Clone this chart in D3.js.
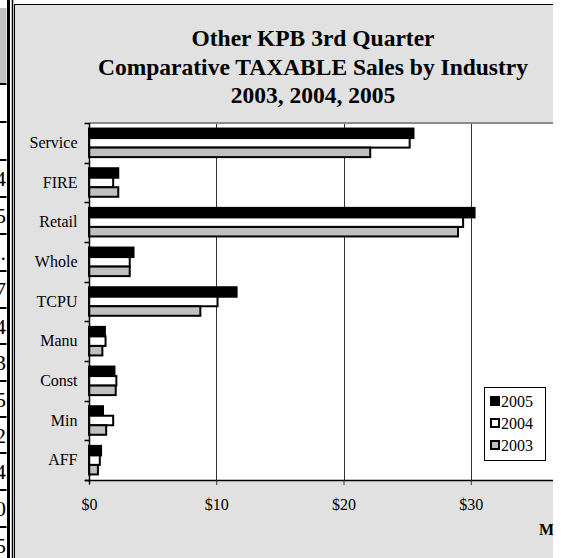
<!DOCTYPE html>
<html>
<head>
<meta charset="utf-8">
<script src="https://cdnjs.cloudflare.com/ajax/libs/d3/7.8.5/d3.min.js"></script>
<style>
  body { margin: 0; background: #fff; }
  svg { display: block; font-family: "Liberation Serif", "Times New Roman", serif; }
</style>
</head>
<body>
<script>
// industries, top to bottom
var categories = ["Service", "FIRE", "Retail", "Whole", "TCPU", "Manu", "Const", "Min", "AFF"];
var years = ["2005", "2004", "2003"];
// taxable sales, $ millions
var sales2005 = [25.5, 2.3, 30.3, 3.5, 11.6, 1.25, 2.0, 1.1, 0.95];
var sales2004 = [25.2, 1.9, 29.4, 3.2, 10.1, 1.3, 2.15, 1.9, 0.85];
var sales2003 = [22.1, 2.3, 29.0, 3.2, 8.75, 1.05, 2.1, 1.35, 0.7];
var xTicks = [0, 10, 20, 30, 40];
// right edge of a table sitting left of the chart (cut off)
var tableDigits = ["", "", "4", "5", ".", "7", "4", "3", "5", "2", "4", "0", "5"];

var w = 561, h = 558;
var clipRight = 553;

var svg = d3.select("body").append("svg")
    .attr("width", w)
    .attr("height", h);

// ---- table strip on the left ----
var tbl = svg.append("g");
tbl.append("rect").attr("x", 0).attr("y", 8).attr("width", 8).attr("height", 76).attr("fill", "#c0c0c0");
var rowLines = [84, 122, 160, 197, 234, 271, 308, 344, 381, 417, 453, 490, 527];
tbl.selectAll("line.row").data(rowLines).enter().append("line")
    .attr("x1", 0).attr("x2", 8)
    .attr("y1", function (d) { return d; }).attr("y2", function (d) { return d; })
    .attr("stroke", "#000").attr("stroke-width", 2);
tbl.selectAll("text").data(tableDigits).enter().append("text")
    .attr("x", 6)
    .attr("y", function (d, i) { return i < rowLines.length - 1 ? (rowLines[i] + rowLines[i + 1]) / 2 : 545; })
    .attr("dy", "0.35em")
    .attr("text-anchor", "end")
    .style("font-size", "22px")
    .text(function (d) { return d; });
tbl.append("rect").attr("x", 6.5).attr("y", 0).attr("width", 1).attr("height", h).attr("fill", "#fff");
tbl.append("line").attr("x1", 8.5).attr("x2", 8.5).attr("y1", 0).attr("y2", h).attr("stroke", "#000").attr("stroke-width", 3);
tbl.append("line").attr("x1", 12.5).attr("x2", 12.5).attr("y1", 0).attr("y2", h).attr("stroke", "#000").attr("stroke-width", 1.5);

// ---- chart area ----
svg.append("clipPath").attr("id", "clip")
    .append("rect").attr("x", 14).attr("y", 0).attr("width", clipRight - 14).attr("height", h);

var chart = svg.append("g").attr("clip-path", "url(#clip)");

chart.append("rect")
    .attr("x", 14.5).attr("y", 4.5)
    .attr("width", 600).attr("height", 600)
    .attr("fill", "#e1e1e1")
    .attr("stroke", "#000");

// title
var title = chart.append("text")
    .attr("text-anchor", "middle")
    .style("font-size", "23.5px")
    .style("font-weight", "bold");
title.append("tspan").attr("x", 313).attr("y", 46).text("Other KPB 3rd Quarter");
title.append("tspan").attr("x", 313).attr("y", 75).text("Comparative TAXABLE Sales by Industry");
title.append("tspan").attr("x", 313).attr("y", 103).text("2003, 2004, 2005");

// scales
var x = d3.scaleLinear().domain([0, 40]).range([89, 598]);
var y = d3.scaleBand().domain(categories).range([123, 480])
    .paddingInner(0.28).paddingOuter(0.14);
var ySub = d3.scaleBand().domain(years).range([0, y.bandwidth()]);
var fills = { "2005": "#000", "2004": "#fff", "2003": "#c0c0c0" };

var rows = categories.map(function (c, i) {
    return { cat: c, values: [
        { year: "2005", v: sales2005[i] },
        { year: "2004", v: sales2004[i] },
        { year: "2003", v: sales2003[i] }
    ] };
});

// plot area
chart.append("rect")
    .attr("x", 89).attr("y", 123)
    .attr("width", 600).attr("height", 357)
    .attr("fill", "#fff");
chart.append("line")
    .attr("x1", 89).attr("x2", 700).attr("y1", 123).attr("y2", 123)
    .attr("stroke", "#8c8c8c").attr("stroke-width", 2);

// gridlines
chart.selectAll("line.grid").data(xTicks.slice(1)).enter().append("line")
    .attr("class", "grid")
    .attr("x1", function (d) { return Math.round(x(d)) + 0.5; })
    .attr("x2", function (d) { return Math.round(x(d)) + 0.5; })
    .attr("y1", 124).attr("y2", 480)
    .attr("stroke", "#333");

// bars
var groups = chart.selectAll("g.cat").data(rows).enter().append("g")
    .attr("transform", function (d) { return "translate(0," + y(d.cat) + ")"; });
groups.selectAll("rect").data(function (d) { return d.values; }).enter().append("rect")
    .attr("x", x(0))
    .attr("y", function (d) { return ySub(d.year); })
    .attr("width", function (d) { return x(d.v) - x(0); })
    .attr("height", ySub.bandwidth())
    .attr("fill", function (d) { return fills[d.year]; })
    .attr("stroke", "#000")
    .attr("stroke-width", 2);

// x axis
var xAxis = chart.append("g")
    .attr("transform", "translate(0,480)")
    .call(d3.axisBottom(x).tickValues(xTicks)
        .tickFormat(function (d) { return "$" + d; })
        .tickSize(5).tickSizeOuter(0).tickPadding(14));
xAxis.select(".domain").attr("d", "M85,0.5H700").attr("stroke", "#000").attr("stroke-width", 1.5);
xAxis.selectAll(".tick line").attr("stroke", "#333");
xAxis.selectAll("text")
    .style("font-family", "Liberation Serif, serif")
    .style("font-size", "16px")
    .attr("fill", "#000");

// y axis
var yAxis = chart.append("g")
    .attr("transform", "translate(89.5,0)")
    .call(d3.axisLeft(y).tickSize(0).tickPadding(12));
yAxis.select(".domain").attr("d", "M0,123V484").attr("stroke", "#000").attr("stroke-width", 1.5);
yAxis.selectAll("text")
    .style("font-family", "Liberation Serif, serif")
    .style("font-size", "16px")
    .attr("fill", "#000");
var bounds = categories.map(function (c) { return y(c) - y.step() * y.paddingInner() / 2; });
bounds.push(480);
yAxis.selectAll("line.tk").data(bounds).enter().append("line")
    .attr("class", "tk")
    .attr("x1", -5).attr("x2", 0)
    .attr("y1", function (d) { return Math.round(d) + 0.5; })
    .attr("y2", function (d) { return Math.round(d) + 0.5; })
    .attr("stroke", "#000").attr("stroke-width", 1.5);

// axis title (cut off at the right edge)
chart.append("text")
    .attr("x", 539).attr("y", 535)
    .style("font-size", "16px")
    .style("font-weight", "bold")
    .text("Millions");

// legend
var legend = chart.append("g");
legend.append("rect")
    .attr("x", 484.5).attr("y", 387.5)
    .attr("width", 61).attr("height", 73)
    .attr("fill", "#fff").attr("stroke", "#000");
var items = legend.selectAll("g.item").data(years).enter().append("g")
    .attr("transform", function (d, i) { return "translate(491," + (401 + i * 22) + ")"; });
items.append("rect")
    .attr("x", 0).attr("y", -4)
    .attr("width", 8).attr("height", 8)
    .attr("fill", function (d) { return fills[d]; })
    .attr("stroke", "#000").attr("stroke-width", 2);
items.append("text")
    .attr("x", 10).attr("dy", "0.35em")
    .style("font-size", "16px")
    .text(function (d) { return d; });
</script>
</body>
</html>
